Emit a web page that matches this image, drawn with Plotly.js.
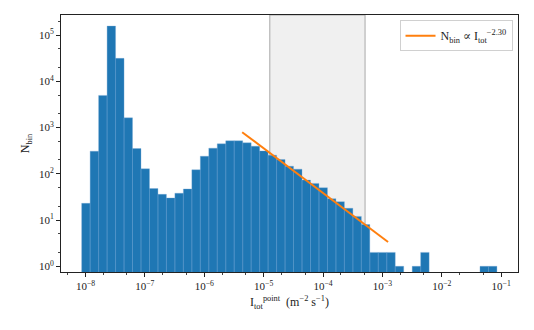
<!DOCTYPE html>
<html>
<head>
<meta charset="utf-8">
<script src="https://cdn.plot.ly/plotly-3.0.1.min.js"></script>
<style>
  html, body { margin: 0; padding: 0; background: #ffffff; }
  #chart { width: 534px; height: 330px; }
</style>
</head>
<body>
<div id="chart"></div>
<script>
// histogram of I_tot^point, log-spaced bins (log10 of first edge, bin width in dex)
const binStartLog = -8.064;
const binWidthDex = 0.1427;
const binCounts = [
  23, 308, 4950, 156000, 31300, 1620, 352, 128, 48, 36,
  30, 38, 47, 122, 240, 358, 444, 516, 516, 467,
  396, 313, 253, 204, 146, 126, 73, 62, 50, 29,
  25, 18, 12, 8, 2, 2, 2, 1, 0, 1,
  2, 0, 0, 0, 0, 0, 0, 1, 1
];

// shaded fit window
const fitWindow = [1.27e-5, 5.1e-4];

// power-law guide line
const fitX = [4.35e-6, 1.245e-3];
const fitY = [794, 3.36];

// tick labels
const xTickVals = [1e-8, 1e-7, 1e-6, 1e-5, 1e-4, 1e-3, 1e-2, 1e-1];
const xTickText = ["10<sup>−8</sup>", "10<sup>−7</sup>", "10<sup>−6</sup>", "10<sup>−5</sup>",
                   "10<sup>−4</sup>", "10<sup>−3</sup>", "10<sup>−2</sup>", "10<sup>−1</sup>"];
const yTickVals = [1, 10, 100, 1e3, 1e4, 1e5];
const yTickText = ["10<sup>0</sup>", "10<sup>1</sup>", "10<sup>2</sup>",
                   "10<sup>3</sup>", "10<sup>4</sup>", "10<sup>5</sup>"];

const BLUE = "#1f77b4";
const ORANGE = "#ff7f0e";
const SERIF = "'Liberation Serif', 'DejaVu Serif', serif";

function buildBars() {
  const xs = [];
  const ys = [];
  const floor = 0.1;
  binCounts.forEach((n, i) => {
    if (n <= 0) return;
    const lo = Math.pow(10, binStartLog + i * binWidthDex);
    const hi = Math.pow(10, binStartLog + (i + 1) * binWidthDex);
    xs.push(lo, lo, hi, hi, lo, null);
    ys.push(floor, n, n, floor, floor, null);
  });
  return { xs, ys };
}

const bars = buildBars();

const traces = [
  {
    type: "scatter",
    mode: "lines",
    x: bars.xs,
    y: bars.ys,
    fill: "toself",
    fillcolor: BLUE,
    line: { color: "rgba(120,170,215,0.7)", width: 0.5 },
    showlegend: false,
    hoverinfo: "skip"
  },
  {
    type: "scatter",
    mode: "lines",
    x: fitX,
    y: fitY,
    name: "N<sub>bin</sub> ∝ I<sub>tot</sub><sup>−2.30</sup>",
    line: { color: ORANGE, width: 2 }
  }
];

const axisCommon = {
  type: "log",
  showgrid: false,
  zeroline: false,
  showline: true,
  linecolor: "#222222",
  linewidth: 1,
  mirror: true,
  ticks: "outside",
  ticklen: 4,
  tickwidth: 1,
  tickcolor: "#222222",
  tickfont: { family: SERIF, size: 11, color: "#222222" },
  minor: { ticks: "outside", ticklen: 2, tickcolor: "#444444", showgrid: false }
};

const layout = {
  width: 534,
  height: 330,
  margin: { l: 61, r: 16, t: 15, b: 58 },
  paper_bgcolor: "#ffffff",
  plot_bgcolor: "#ffffff",
  font: { family: SERIF, size: 11, color: "#222222" },
  xaxis: Object.assign({}, axisCommon, {
    range: [-8.412, -0.717],
    tickmode: "array",
    tickvals: xTickVals,
    ticktext: xTickText,
    title: {
      text: "I<sub>tot</sub><sup>point</sup>  (m<sup>−2</sup> s<sup>−1</sup>)",
      font: { family: SERIF, size: 12 },
      standoff: 6
    }
  }),
  yaxis: Object.assign({}, axisCommon, {
    range: [-0.123, 5.433],
    tickmode: "array",
    tickvals: yTickVals,
    ticktext: yTickText,
    title: {
      text: "N<sub>bin</sub>",
      font: { family: SERIF, size: 12 },
      standoff: 6
    }
  }),
  shapes: [
    {
      type: "rect",
      layer: "below",
      xref: "x",
      yref: "paper",
      x0: fitWindow[0],
      x1: fitWindow[1],
      y0: 0,
      y1: 1,
      fillcolor: "#f0f0f0",
      line: { color: "#a8a8a8", width: 1 }
    }
  ],
  legend: {
    x: 0.988,
    y: 0.98,
    xanchor: "right",
    yanchor: "top",
    bgcolor: "rgba(255,255,255,0.9)",
    bordercolor: "#d0d0d0",
    borderwidth: 1,
    font: { family: SERIF, size: 12 },
    itemwidth: 30
  },
  showlegend: true
};

Plotly.newPlot("chart", traces, layout, { displayModeBar: false, staticPlot: true });
</script>
</body>
</html>
